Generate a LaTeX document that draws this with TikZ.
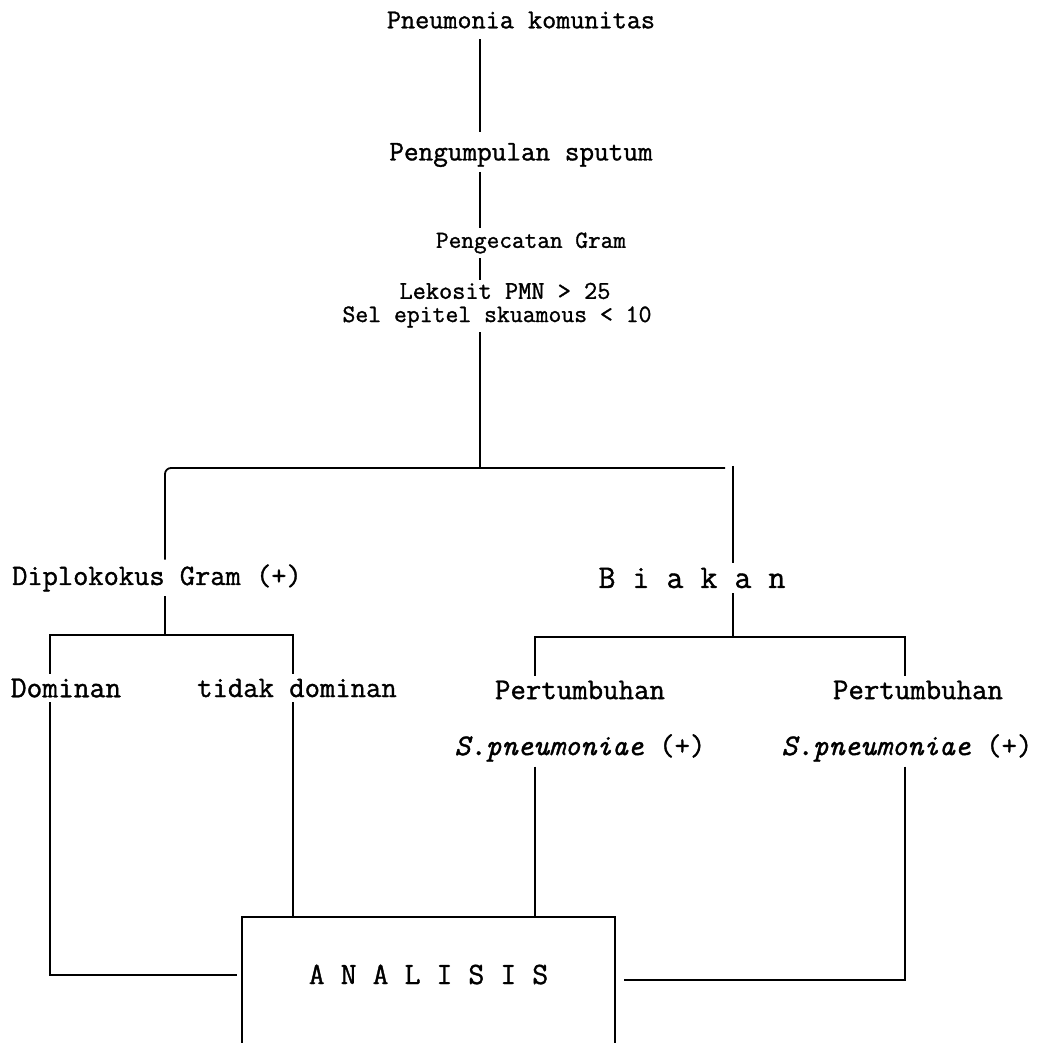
\documentclass[tikz,border=0pt]{standalone}
\usepackage{fontspec}
\setmonofont{Latin Modern Mono}[FakeBold=1.2]
\newcommand\tfs[1]{\fontsize{#1}{#1}\selectfont\ttfamily\bfseries}
\begin{document}
\begin{tikzpicture}[x=0.5pt,y=-0.5pt,line width=0.9pt,
  txt/.style={inner sep=2pt,anchor=center},
  conn/.style={draw=black,line width=0.9pt}]
\useasboundingbox (0,0) rectangle (1046,1043);
% text nodes
\node[txt,font=\tfs{13.7}] (pk) at (521,20) {Pneumonia komunitas};
\node[txt,font=\tfs{14.2}] (ps) at (521,155) {Pengumpulan sputum};
\node[txt,font=\tfs{12.3}] (pg) at (531,243) {Pengecatan Gram};
\node[txt,font=\tfs{12.8},inner sep=1pt] (lk) at (505,291) {Lekosit PMN > 25};
\node[txt,font=\tfs{12.5}] (se) at (497,317) {Sel epitel skuamous < 10};
\node[txt,font=\tfs{14.8}] (dg) at (157,578) {Diplokokus Gram (+)};
\node[txt,font=\tfs{16.5}] (bk) at (692,578) {B i a k a n};
\node[txt,font=\tfs{15.3}] (dm) at (66,688) {Dominan};
\node[txt,font=\tfs{14.9}] (td) at (297,688) {tidak dominan};
\node[txt,font=\tfs{15}] (pt1) at (580,690) {Pertumbuhan};
\node[txt,font=\tfs{15}] (pt2) at (918,690) {Pertumbuhan};
\node[txt,font=\tfs{15}] (sp1) at (580,748) {\textit{S.pneumoniae} (+)};
\node[txt,font=\tfs{15}] (sp2) at (907,748) {\textit{S.pneumoniae} (+)};
\node[font=\tfs{15.5},minimum width=185.5pt,minimum height=66pt,inner sep=0pt,
  text height=10pt,text depth=10pt] (an) at (428.5,984) {A N A L I S I S};
% junction coordinates
\coordinate (tx) at (480,0);
\coordinate (j1) at (480,468);
\coordinate (jl) at (165,468);
\coordinate (jr) at (725,468);
\coordinate (rv) at (733,466);
\coordinate (dl) at (50,635);
\coordinate (dc) at (165,635);
\coordinate (dr) at (293,635);
\coordinate (el) at (535,637);
\coordinate (ec) at (733,637);
\coordinate (er) at (905,637);
\coordinate (bl) at (237,975);
\coordinate (br) at (624,980);
% main trunk
\draw[conn,shorten <=3pt,shorten >=3pt] (pk.south -| tx) -- (ps.north -| tx);
\draw[conn] (ps.south -| tx) -- (pg.north -| tx);
\draw[conn] (pg.south -| tx) -- (lk.north -| tx);
\draw[conn] (se.south -| j1) -- (j1);
% first split
\draw[conn,rounded corners=3pt] (dg.north -| jl) |- (jr);
\draw[conn] (rv) -- (bk.north -| rv);
% left subtree
\draw[conn] (dg.south -| dc) -- (dc);
\draw[conn] (dm.north -| dl) |- (dr) -- (td.north -| dr);
% right subtree
\draw[conn] (bk.south -| ec) -- (ec);
\draw[conn] (pt1.north -| el) |- (er) -- (pt2.north -| er);
% to analysis
\draw[conn] (dm.south -| dl) |- (bl);
\draw[conn] (td.south -| dr) -- (an.north -| dr);
\draw[conn] (sp1.south -| el) -- (an.north -| el);
\draw[conn] (sp2.south -| er) |- (br);
% analysis box (open at the bottom)
\draw[conn] (an.south west) -- (an.north west) -- (an.north east) -- (an.south east);
\end{tikzpicture}
\end{document}
